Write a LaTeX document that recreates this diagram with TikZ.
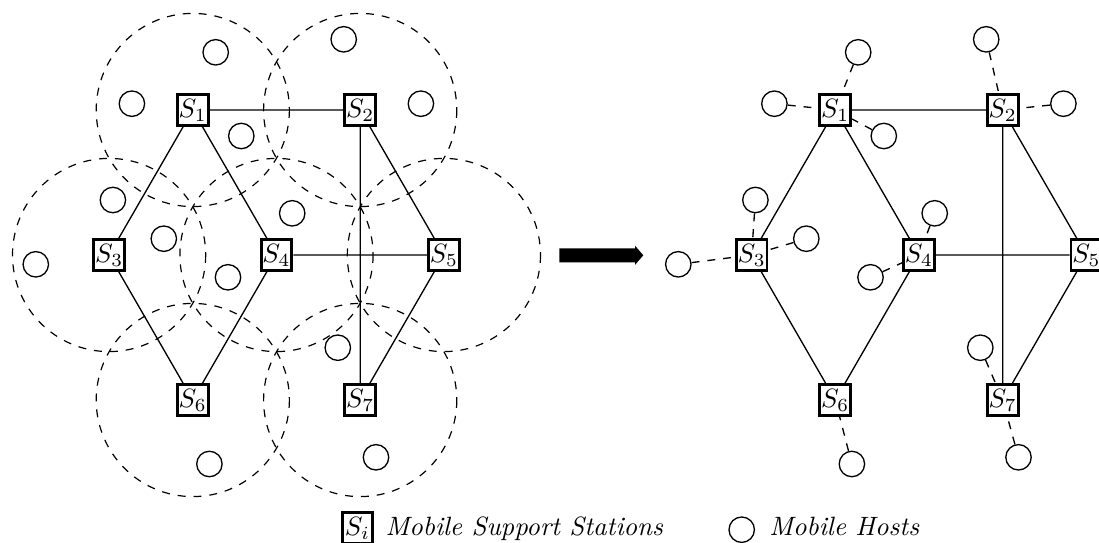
\documentclass[tikz,border=0pt]{standalone}
\begin{document}
\newcommand\netwk[2]{%
\begin{scope}[shift={(#2,0)}]
\node[mss] (#1S1) at (192.8,110) {$S_1$};
\node[mss] (#1S2) at (360.2,110) {$S_2$};
\node[mss] (#1S3) at (109.1,255) {$S_3$};
\node[mss] (#1S4) at (276.5,255) {$S_4$};
\node[mss] (#1S5) at (443.9,255) {$S_5$};
\node[mss] (#1S6) at (192.8,400) {$S_6$};
\node[mss] (#1S7) at (360.2,400) {$S_7$};
\node[host] (#1h1a) at (215.7,52.3) {};
\node[host] (#1h1b) at (131.9,103.7) {};
\node[host] (#1h1c) at (241.3,136) {};
\node[host] (#1h2a) at (343.7,39.3) {};
\node[host] (#1h2b) at (420.9,103.7) {};
\node[host] (#1h3a) at (112.9,200) {};
\node[host] (#1h3b) at (163.8,238.7) {};
\node[host] (#1h3c) at (35.8,264.3) {};
\node[host] (#1h4a) at (292.2,213.3) {};
\node[host] (#1h4b) at (228,277.3) {};
\node[host] (#1h7a) at (337.8,347.7) {};
\node[host] (#1h6a) at (209.4,464) {};
\node[host] (#1h7b) at (376,457.3) {};
\draw[edge] (#1S1) -- (#1S2) (#1S1) -- (#1S3) (#1S1) -- (#1S4)
  (#1S2) -- (#1S5) (#1S2) -- (#1S7) (#1S3) -- (#1S6) (#1S4) -- (#1S6)
  (#1S4) -- (#1S5) (#1S5) -- (#1S7);
\end{scope}}
\begin{tikzpicture}[x=0.3774pt,y=-0.3774pt,
  mss/.style={draw,line width=1.1pt,minimum size=11.6pt,inner sep=0pt},
  host/.style={draw,circle,line width=0.5pt,minimum size=9.6pt,inner sep=0pt},
  edge/.style={line width=0.5pt},
  cell/.style={dashed,line width=0.45pt},
  link/.style={dashed,line width=0.5pt}]
\useasboundingbox (0,0) rectangle (1099,543);
\netwk{L}{0}
\foreach \n in {1,...,7} \draw[cell] (LS\n.center) circle[radius=96.6];
\netwk{R}{642.5}
\draw[link] (Rh1a) -- (RS1) (Rh1b) -- (RS1) (Rh1c) -- (RS1)
  (Rh2a) -- (RS2) (Rh2b) -- (RS2)
  (Rh3a) -- (RS3) (Rh3b) -- (RS3) (Rh3c) -- (RS3)
  (Rh4a) -- (RS4) (Rh4b) -- (RS4)
  (Rh7a) -- (RS7) (Rh6a) -- (RS6) (Rh7b) -- (RS7);
\fill (559.3,248.3) -- (635,248.3) -- (635,245.7) -- (643.3,255.3)
  -- (635,264.9) -- (635,262.3) -- (559.3,262.3) -- cycle;
\node[mss] (key1) at (357.5,528) {$S_i$};
\node[anchor=base west,inner sep=0pt] (key1t) at (385,535) {\itshape Mobile Support Stations};
\node[host] (key2) at (741.7,529.7) {};
\node[anchor=base west,inner sep=0pt] (key2t) at (768.8,535) {\itshape Mobile Hosts};
\end{tikzpicture}
\end{document}
